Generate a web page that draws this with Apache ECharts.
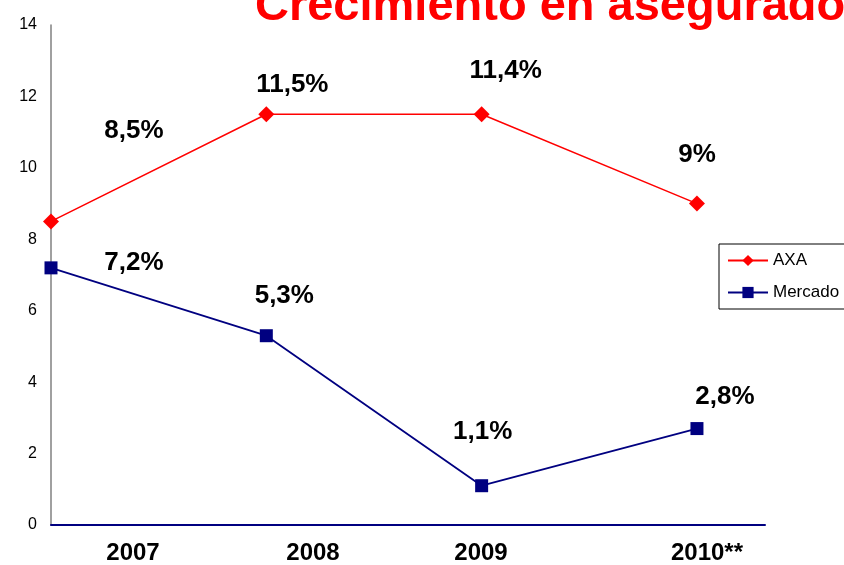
<!DOCTYPE html>
<html>
<head>
<meta charset="utf-8">
<script src="https://cdn.jsdelivr.net/npm/echarts@6/dist/echarts.min.js"></script>
<style>
	html, body { margin: 0; padding: 0; background: #fff; }
	#chart { width: 844px; height: 565px; }
</style>
</head>
<body>
<div id="chart"></div>
<script>
// years (category positions 0..3 on the x axis)
const years = ['2007', '2008', '2009', '2010**']
const yearPos = [0, 1, 2, 3]

// growth values
const axaValues = [8.5, 11.5, 11.5, 9]
const mercadoValues = [7.2, 5.3, 1.1, 2.7]

// label texts shown next to the points
const axaLabels = ['8,5%', '11,5%', '11,4%', '9%']
const mercadoLabels = ['7,2%', '5,3%', '1,1%', '2,8%']

// y axis ticks
const yMin = 0
const yMax = 14
const yStep = 2

// label offsets (pixels, from the point)
const axaOffsets = [[83, -91], [26, -29], [24, -43], [0, -49]]
const mercadoOffsets = [[83, -5], [18, -40], [1, -54], [28, -32]]

// x label pixel positions (under the axis)
const yearLabelX = [133, 313, 481, 707]

const FONT = 'Liberation Sans, Arial, sans-serif'

const makeData = (values, labels, offsets) =>
	values.map((v, i) => ({
		value: [yearPos[i], v],
		label: {
			formatter: labels[i],
			offset: offsets[i],
		},
	}))

$chart = () => {
	const chart = echarts.init(document.getElementById('chart'))

	const labelStyle = {
		show: true,
		position: 'inside',
		color: '#000',
		fontFamily: FONT,
		fontWeight: 'bold',
		fontSize: 26,
	}

	const option = {
		animation: false,
		backgroundColor: '#fff',
		title: {
			text: 'Crecimiento en asegurados',
			left: 255,
			top: -16,
			padding: 0,
			textStyle: {
				color: '#ff0000',
				fontFamily: FONT,
				fontWeight: 'bold',
				fontSize: 47,
			},
		},
		legend: {
			orient: 'vertical',
			left: 719,
			top: 244,
			padding: [8, 6, 8, 8],
			itemWidth: 40,
			itemHeight: 14,
			itemGap: 15,
			borderColor: '#000',
			borderWidth: 1,
			textStyle: {
				color: '#000',
				fontFamily: FONT,
				fontSize: 17,
			},
			data: ['AXA', 'Mercado'],
		},
		grid: {
			left: 51,
			right: 79,
			top: 25,
			bottom: 40,
		},
		xAxis: {
			type: 'value',
			min: 0,
			max: 3.316,
			axisLine: { show: true, lineStyle: { color: '#000080', width: 2 } },
			axisTick: { show: false },
			axisLabel: { show: false },
			splitLine: { show: false },
		},
		yAxis: {
			type: 'value',
			min: yMin,
			max: yMax,
			interval: yStep,
			axisLine: { show: true, lineStyle: { color: '#808080', width: 1.5 } },
			axisTick: { show: false },
			splitLine: { show: false },
			axisLabel: {
				color: '#000',
				fontFamily: FONT,
				fontSize: 16,
				margin: 14,
			},
		},
		graphic: years.map((y, i) => ({
			type: 'text',
			x: yearLabelX[i],
			y: 553,
			style: {
				text: y,
				fill: '#000',
				font: 'bold 24px ' + FONT,
				textAlign: 'center',
				textVerticalAlign: 'middle',
			},
		})),
		series: [
			{
				name: 'AXA',
				type: 'line',
				symbol: 'diamond',
				symbolSize: 16,
				color: '#ff0000',
				lineStyle: { color: '#ff0000', width: 1.5 },
				itemStyle: { color: '#ff0000' },
				label: labelStyle,
				data: makeData(axaValues, axaLabels, axaOffsets),
			},
			{
				name: 'Mercado',
				type: 'line',
				symbol: 'rect',
				symbolSize: 13,
				color: '#000080',
				lineStyle: { color: '#000080', width: 1.8 },
				itemStyle: { color: '#000080' },
				label: labelStyle,
				data: makeData(mercadoValues, mercadoLabels, mercadoOffsets),
			},
		],
	}

	chart.setOption(option)
}

$chart()
</script>
</body>
</html>
